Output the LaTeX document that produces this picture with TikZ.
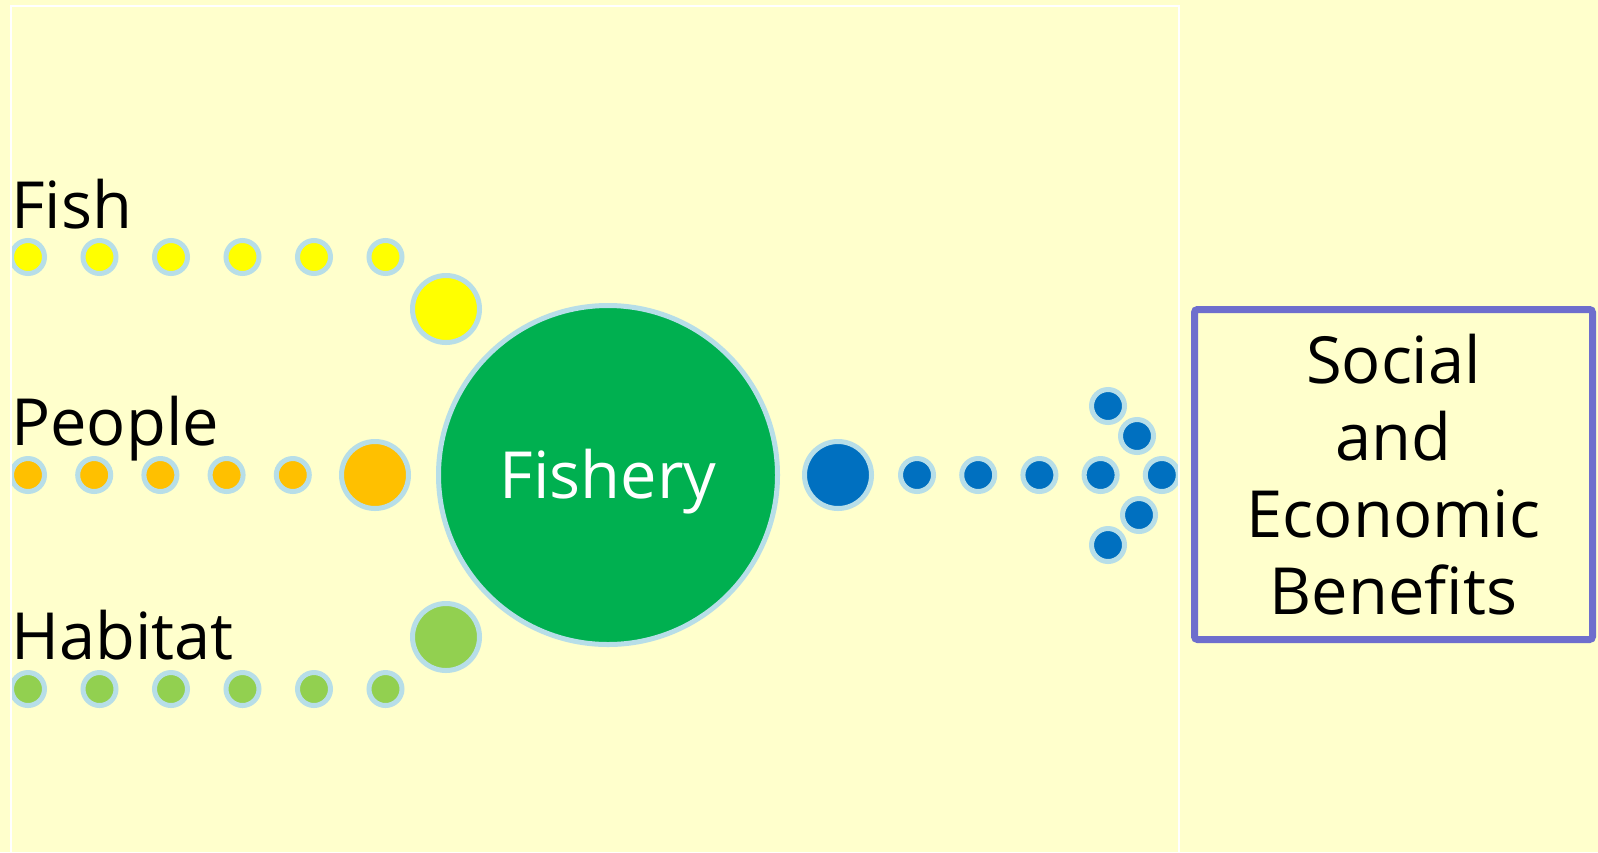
\documentclass[tikz,border=0pt]{standalone}
\usepackage{fontspec}
\setmainfont{Open Sans}
\usepackage{tikz}
\usetikzlibrary{positioning}

\definecolor{bgyellow}{RGB}{255,255,204}
\definecolor{ringblue}{RGB}{183,222,232}
\definecolor{fishyellow}{RGB}{255,255,0}
\definecolor{peopleorange}{RGB}{255,192,0}
\definecolor{habitatgreen}{RGB}{146,208,80}
\definecolor{fisherygreen}{RGB}{0,176,80}
\definecolor{benefitblue}{RGB}{0,112,192}
\definecolor{boxpurple}{RGB}{110,110,205}

\tikzset{
  bead/.style={circle, draw=ringblue, line width=2.5pt, inner sep=0pt, outer sep=0pt, minimum size=16.5pt},
  bigbead/.style={bead, minimum size=33.5pt},
  hub/.style={circle, draw=ringblue, line width=2.5pt, fill=fisherygreen, inner sep=0pt, minimum size=169.5pt, text=white, font=\fontsize{32.5}{38}\selectfont},
  strandname/.style={anchor=base west, inner sep=0pt, font=\fontsize{32.5}{38}\selectfont},
  benefitbox/.style={draw=boxpurple, line width=3.5pt, rounded corners=1.5pt, minimum width=199pt, minimum height=165pt, inner sep=0pt, align=center, font=\fontsize{32.5}{38.5}\selectfont}
}

\begin{document}
\begin{tikzpicture}[x=0.5pt, y=-0.5pt]

    % Background
    \fill[bgyellow] (0,0) rectangle (1598,852);
    \useasboundingbox (0,0) rectangle (1598,852);

    \begin{scope}
    \clip (11,0) rectangle (1179,852);

    % Define nodes
    \node[hub, text depth=0.1em] (fishery) at (608,475) {Fishery};

    \node[bead, fill=fishyellow]                    (f1) at (28,257) {};
    \node[bead, fill=fishyellow, right=19.25pt of f1] (f2) {};
    \node[bead, fill=fishyellow, right=19.25pt of f2] (f3) {};
    \node[bead, fill=fishyellow, right=19.25pt of f3] (f4) {};
    \node[bead, fill=fishyellow, right=19.25pt of f4] (f5) {};
    \node[bead, fill=fishyellow, right=19.25pt of f5] (f6) {};
    \node[bigbead, fill=fishyellow] (fbig) at (446,309) {};

    \node[bead, fill=peopleorange]                   (p1) at (28,475) {};
    \node[bead, fill=peopleorange, right=16.6pt of p1] (p2) {};
    \node[bead, fill=peopleorange, right=16.6pt of p2] (p3) {};
    \node[bead, fill=peopleorange, right=16.6pt of p3] (p4) {};
    \node[bead, fill=peopleorange, right=16.6pt of p4] (p5) {};
    \node[bigbead, fill=peopleorange] (pbig) at (375,475) {};

    \node[bead, fill=habitatgreen]                    (h1) at (28,689) {};
    \node[bead, fill=habitatgreen, right=19.25pt of h1] (h2) {};
    \node[bead, fill=habitatgreen, right=19.25pt of h2] (h3) {};
    \node[bead, fill=habitatgreen, right=19.25pt of h3] (h4) {};
    \node[bead, fill=habitatgreen, right=19.25pt of h4] (h5) {};
    \node[bead, fill=habitatgreen, right=19.25pt of h5] (h6) {};
    \node[bigbead, fill=habitatgreen] (hbig) at (446,637) {};

    \node[bigbead, fill=benefitblue] (bbig) at (838,475) {};
    \node[bead, fill=benefitblue]                   (b1) at (917,475) {};
    \node[bead, fill=benefitblue, right=14.1pt of b1] (b2) {};
    \node[bead, fill=benefitblue, right=14.1pt of b2] (b3) {};
    \node[bead, fill=benefitblue, right=14.1pt of b3] (b4) {};
    \node[bead, fill=benefitblue, right=14.1pt of b4] (b5) {};
    \node[bead, fill=benefitblue] (bu1) at (1108,406) {};
    \node[bead, fill=benefitblue] (bu2) at (1137,436) {};
    \node[bead, fill=benefitblue] (bl2) at (1139,515) {};
    \node[bead, fill=benefitblue] (bl1) at (1108,545) {};
    \end{scope}

    % Frame
    \draw[white, line width=1pt] (11,852) -- (11,6) -- (1179,6) -- (1179,852);

    % Labels
    \node[strandname] (fishname)    at (11,228) {Fish};
    \node[strandname] (peoplename)  at (11,445) {People};
    \node[strandname] (habitatname) at (11,659) {Habitat};

    \node[benefitbox] (benefits) at (1393.5,474.5) {Social\\and\\Economic\\Benefits};
  \end{tikzpicture}
\end{document}
